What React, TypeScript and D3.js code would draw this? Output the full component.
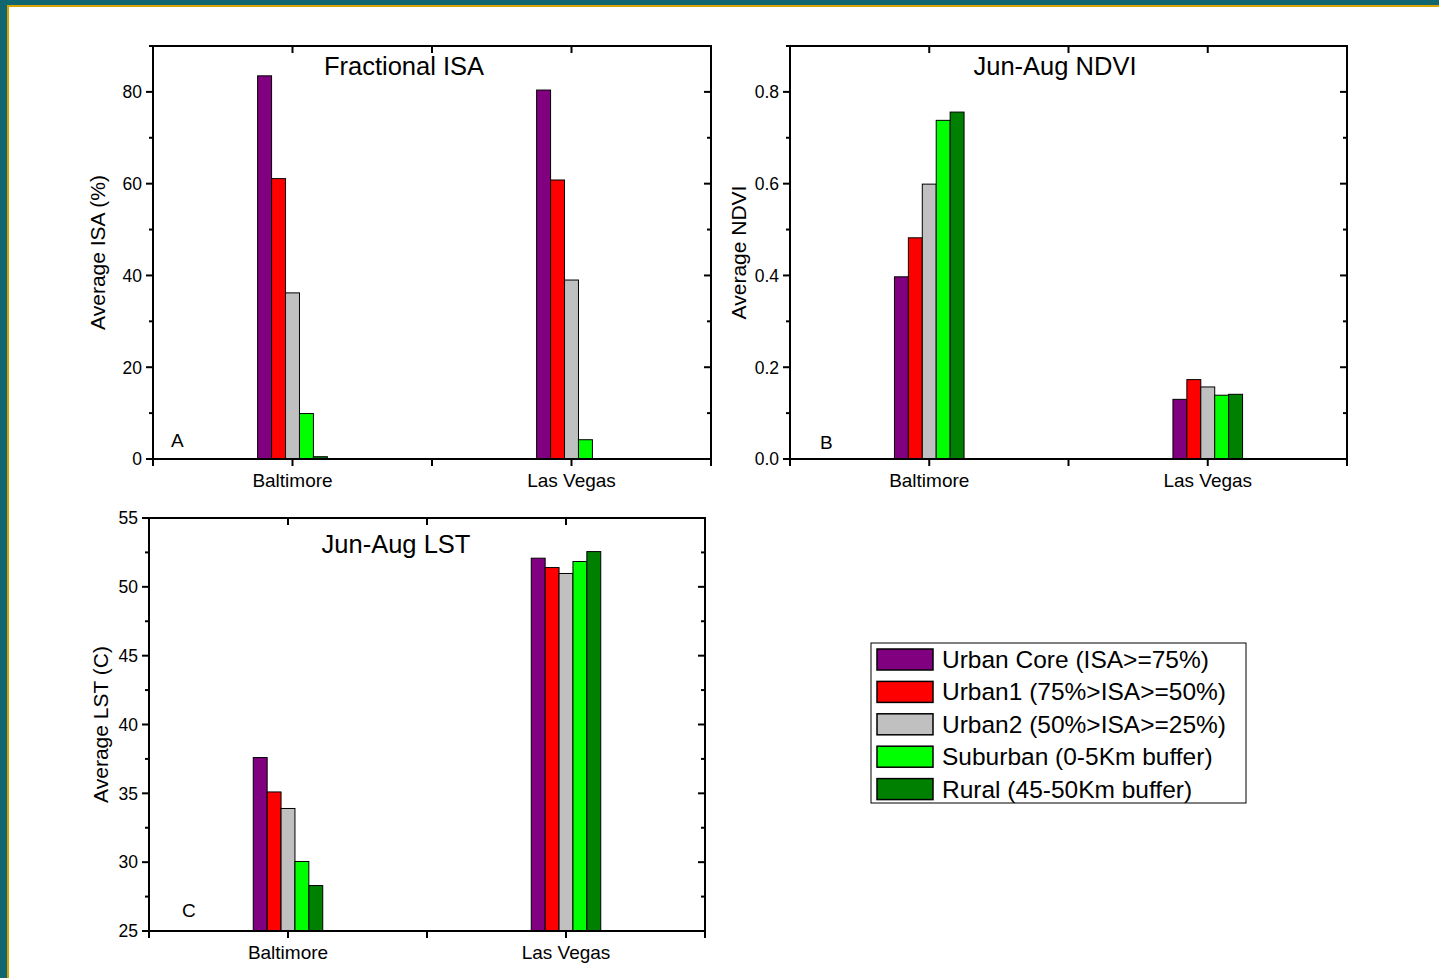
import React, { useEffect, useRef } from "react";
import * as d3 from "d3";

const cities = ["Baltimore", "Las Vegas"];
const classes = [
  "Urban Core (ISA>=75%)",
  "Urban1 (75%>ISA>=50%)",
  "Urban2 (50%>ISA>=25%)",
  "Suburban (0-5Km buffer)",
  "Rural (45-50Km buffer)",
];
const colors = ["#800080", "#ff0000", "#c0c0c0", "#00ff00", "#008000"];

// values per city, in class order
const isaValues = [
  [83.5, 61.1, 36.2, 9.9, 0.5],
  [80.4, 60.8, 39.0, 4.2, 0.1],
];
const ndviValues = [
  [0.397, 0.482, 0.599, 0.738, 0.756],
  [0.13, 0.173, 0.157, 0.139, 0.141],
];
const lstValues = [
  [37.6, 35.1, 33.9, 30.05, 28.3],
  [52.08, 51.4, 50.97, 51.84, 52.56],
];

const isaTicks = [0, 20, 40, 60, 80];
const ndviTicks = [0, 0.2, 0.4, 0.6, 0.8];
const lstTicks = [25, 30, 35, 40, 45, 50, 55];

type Panel = {
  box: { left: number; right: number; top: number; bottom: number };
  domain: [number, number];
  ticks: number[];
  minor: number[];
  fmt: (d: number) => string;
  values: number[][];
  title: string;
  titleX: number;
  titleY: number;
  ylabel: string;
  ylabelX: number;
  letter: string;
  letterX: number;
  letterY: number;
};

const FONT = "Liberation Sans, Arial, sans-serif";
const BAR_W = 0.05; // bar width in x units

function drawPanel(svg: d3.Selection<SVGSVGElement, unknown, null, undefined>, p: Panel) {
  const { left, right, top, bottom } = p.box;
  const x = d3.scaleLinear().domain([0.5, 2.5]).range([left, right]);
  const y = d3.scaleLinear().domain(p.domain).range([bottom, top]);
  const g = svg.append("g");

  // bars, middle class centred on the city tick
  p.values.forEach((vals, ci) => {
    vals.forEach((v, k) => {
      const x0 = x(ci + 1 + (k - 2.5) * BAR_W);
      const x1 = x(ci + 1 + (k - 1.5) * BAR_W);
      g.append("rect")
        .attr("x", x0)
        .attr("y", y(v))
        .attr("width", x1 - x0)
        .attr("height", y(p.domain[0]) - y(v))
        .attr("fill", colors[k])
        .attr("stroke", "#000")
        .attr("stroke-width", 1);
    });
  });

  // frame
  g.append("rect")
    .attr("x", left)
    .attr("y", top)
    .attr("width", right - left)
    .attr("height", bottom - top)
    .attr("fill", "none")
    .attr("stroke", "#000")
    .attr("stroke-width", 2);

  // y ticks: outward on left, inward on right
  p.ticks.forEach((t) => {
    g.append("line").attr("x1", left - 7).attr("x2", left).attr("y1", y(t)).attr("y2", y(t))
      .attr("stroke", "#000").attr("stroke-width", 2);
    g.append("line").attr("x1", right - 7).attr("x2", right).attr("y1", y(t)).attr("y2", y(t))
      .attr("stroke", "#000").attr("stroke-width", 2);
    g.append("text")
      .attr("x", left - 11)
      .attr("y", y(t))
      .attr("dy", "0.36em")
      .attr("text-anchor", "end")
      .style("font-family", FONT)
      .style("font-size", "17.5px")
      .text(p.fmt(t));
  });
  p.minor.forEach((t) => {
    g.append("line").attr("x1", left - 4).attr("x2", left).attr("y1", y(t)).attr("y2", y(t))
      .attr("stroke", "#000").attr("stroke-width", 2);
    g.append("line").attr("x1", right - 4).attr("x2", right).attr("y1", y(t)).attr("y2", y(t))
      .attr("stroke", "#000").attr("stroke-width", 2);
  });

  // x ticks: outward bottom, inward top
  [0.5, 1, 1.5, 2, 2.5].forEach((t) => {
    g.append("line").attr("x1", x(t)).attr("x2", x(t)).attr("y1", bottom).attr("y2", bottom + 7)
      .attr("stroke", "#000").attr("stroke-width", 2);
    g.append("line").attr("x1", x(t)).attr("x2", x(t)).attr("y1", top).attr("y2", top + 7)
      .attr("stroke", "#000").attr("stroke-width", 2);
  });
  cities.forEach((c, i) => {
    g.append("text")
      .attr("x", x(i + 1))
      .attr("y", bottom + 28)
      .attr("text-anchor", "middle")
      .style("font-family", FONT)
      .style("font-size", "19px")
      .text(c);
  });

  g.append("text")
    .attr("x", p.titleX)
    .attr("y", p.titleY)
    .attr("text-anchor", "middle")
    .style("font-family", FONT)
    .style("font-size", "25.5px")
    .text(p.title);

  g.append("text")
    .attr("transform", `translate(${p.ylabelX},${(top + bottom) / 2}) rotate(-90)`)
    .attr("text-anchor", "middle")
    .style("font-family", FONT)
    .style("font-size", "21px")
    .text(p.ylabel);

  g.append("text")
    .attr("x", p.letterX)
    .attr("y", p.letterY)
    .style("font-family", FONT)
    .style("font-size", "19px")
    .text(p.letter);
}

export default function App() {
  const svgRef = useRef<SVGSVGElement>(null);

  useEffect(() => {
    const svg = d3.select(svgRef.current!);
    svg.selectAll("*").remove();

    svg.append("rect").attr("width", 1439).attr("height", 978).attr("fill", "#fff");
    // page border
    svg.append("rect").attr("x", 0).attr("y", 0).attr("width", 1439).attr("height", 5).attr("fill", "#12666f");
    svg.append("rect").attr("x", 0).attr("y", 0).attr("width", 7).attr("height", 978).attr("fill", "#12666f");
    svg.append("rect").attr("x", 7).attr("y", 5).attr("width", 1432).attr("height", 2).attr("fill", "#d9a300");
    svg.append("rect").attr("x", 7).attr("y", 5).attr("width", 2).attr("height", 973).attr("fill", "#d9a300");

    drawPanel(svg, {
      box: { left: 153, right: 711, top: 46, bottom: 459 },
      domain: [0, 90],
      ticks: isaTicks,
      minor: [10, 30, 50, 70, 90],
      fmt: (d) => d3.format("d")(d),
      values: isaValues,
      title: "Fractional ISA",
      titleX: 404,
      titleY: 75,
      ylabel: "Average ISA (%)",
      ylabelX: 105,
      letter: "A",
      letterX: 171,
      letterY: 447,
    });
    drawPanel(svg, {
      box: { left: 790, right: 1347, top: 46, bottom: 459 },
      domain: [0, 0.9],
      ticks: ndviTicks,
      minor: [0.1, 0.3, 0.5, 0.7, 0.9],
      fmt: (d) => d3.format(".1f")(d),
      values: ndviValues,
      title: "Jun-Aug NDVI",
      titleX: 1055,
      titleY: 75,
      ylabel: "Average NDVI",
      ylabelX: 746,
      letter: "B",
      letterX: 820,
      letterY: 449,
    });
    drawPanel(svg, {
      box: { left: 149, right: 705, top: 518, bottom: 931 },
      domain: [25, 55],
      ticks: lstTicks,
      minor: [27.5, 32.5, 37.5, 42.5, 47.5, 52.5],
      fmt: (d) => d3.format("d")(d),
      values: lstValues,
      title: "Jun-Aug LST",
      titleX: 396,
      titleY: 553,
      ylabel: "Average LST (C)",
      ylabelX: 108,
      letter: "C",
      letterX: 182,
      letterY: 917,
    });

    // legend
    const lg = svg.append("g");
    lg.append("rect").attr("x", 871).attr("y", 643).attr("width", 375).attr("height", 160)
      .attr("fill", "#fff").attr("stroke", "#000").attr("stroke-width", 1);
    const ly = d3.scaleBand<number>().domain(d3.range(classes.length)).range([648, 810]);
    classes.forEach((c, i) => {
      lg.append("rect")
        .attr("x", 877)
        .attr("y", ly(i)! + 1)
        .attr("width", 56)
        .attr("height", 21)
        .attr("fill", colors[i])
        .attr("stroke", "#000")
        .attr("stroke-width", 1.5);
      lg.append("text")
        .attr("x", 942)
        .attr("y", ly(i)! + 20)
        .style("font-family", FONT)
        .style("font-size", "24.5px")
        .text(c);
    });
  }, []);

  return (
    <svg
      ref={svgRef}
      width={1439}
      height={978}
      style={{ position: "absolute", left: 0, top: 0 }}
    />
  );
}
